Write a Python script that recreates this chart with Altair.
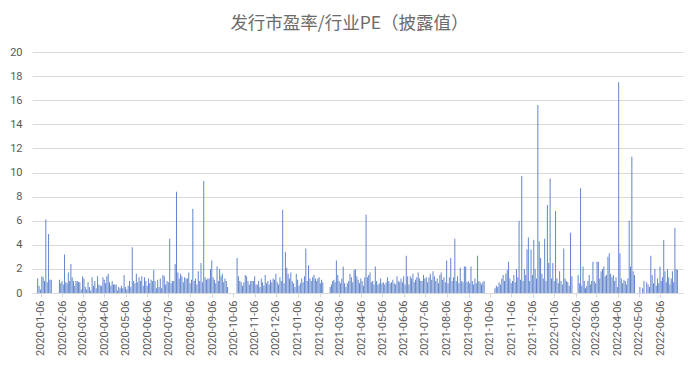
import altair as alt
import pandas as pd

TITLE = "发行市盈率/行业PE（披露值）"

# Monthly series of values (evenly spread over each month)
m2020_01 = [1.2, 0.6, 0.3, 1.4, 1.3, 1.0, 6.1, 0.9, 4.9, 1.1, 1.1, 0, 0, 0, 0, 0]
m2020_02 = [1.1, 0.8, 1.0, 0.7, 3.2, 0.9, 0.8, 1.7, 1.0, 2.4, 1.3, 1.0, 0.6, 1.0, 1.0, 0.9]
m2020_03 = [0.9, 0.3, 1.4, 1.2, 0.5, 0.3, 0.9, 0.5, 0.2, 1.3, 0.6, 1.0, 0.4, 1.4, 0.7, 0.6]
m2020_04 = [0.6, 1.3, 1.1, 0.8, 1.4, 1.6, 0.9, 0.6, 1.0, 0.7, 0.7, 0.7, 0.2, 0.5, 0.4, 0.6]
m2020_05 = [0.4, 1.5, 0.5, 0.3, 0.6, 1.0, 0.5, 3.8, 1.0, 0.8, 1.6, 0.9, 1.3, 1.0, 1.4, 0.6]
m2020_06 = [1.3, 1.0, 0.6, 1.2, 0.8, 1.1, 1.0, 1.9, 1.0, 0.4, 1.1, 0.5, 1.2, 0.4, 1.5, 1.4]
m2020_07 = [0.7, 1.0, 0.9, 4.5, 0.8, 1.0, 1.0, 2.4, 8.4, 1.7, 1.2, 1.6, 1.4, 0.9, 1.3, 1.2]
m2020_08 = [1.2, 1.7, 0.8, 1.1, 7.0, 1.0, 1.2, 0.7, 1.8, 1.0, 2.5, 0.9, 9.3, 1.3, 1.1, 1.2]
m2020_09 = [1.2, 2.0, 2.7, 1.3, 1.1, 0.8, 2.2, 1.0, 2.0, 1.4, 1.6, 0.9, 1.2, 1.0, 0.5, 0]
m2020_10 = [0, 0, 0, 0, 0, 2.9, 1.4, 1.0, 0.9, 0.6, 0.9, 1.5, 1.4, 1.0, 0.7, 1.0]
m2020_11 = [1.0, 1.0, 1.4, 0.7, 0.7, 1.0, 0.5, 1.2, 0.9, 0.6, 1.5, 0.8, 1.0, 0.7, 1.1, 0.9]
m2020_12 = [1.2, 1.1, 1.6, 0.9, 0.7, 1.3, 1.0, 6.9, 0.8, 3.4, 2.1, 1.6, 1.2, 1.7, 1.0, 0.8]
m2021_01 = [0.5, 1.6, 1.1, 0.6, 0.8, 1.2, 0.9, 1.4, 3.7, 1.0, 2.3, 1.2, 1.0, 1.3, 1.5, 1.2]
m2021_02 = [1.0, 1.2, 1.3, 0.8, 1.1, 0.9, 0, 0, 0, 0, 0, 0.5, 0.7, 1.0, 1.1, 0.9]
m2021_03 = [2.7, 1.5, 1.0, 0.8, 1.2, 2.2, 0.8, 0.5, 0.8, 1.0, 1.6, 1.3, 0.9, 1.9, 2.0, 1.4]
m2021_04 = [1.1, 0.8, 1.2, 1.0, 0.6, 1.3, 6.5, 1.3, 1.5, 1.7, 0.9, 1.0, 0.7, 2.2, 1.0, 0.7]
m2021_05 = [0.8, 1.2, 0.8, 0.9, 0.7, 0.9, 1.3, 1.0, 0.8, 0.9, 1.1, 0.8, 0.7, 1.4, 1.0, 0.9]
m2021_06 = [1.2, 0.9, 1.4, 0.7, 3.1, 1.4, 0.7, 1.4, 1.2, 1.6, 0.9, 1.1, 1.3, 1.7, 1.2, 1.0]
m2021_07 = [1.0, 1.5, 1.2, 1.3, 0.9, 1.3, 1.6, 1.1, 1.8, 1.4, 1.0, 1.2, 0.8, 1.5, 1.7, 1.1]
m2021_08 = [1.3, 0.9, 2.7, 0.8, 1.3, 2.9, 1.0, 1.3, 4.5, 1.0, 1.4, 0.8, 2.1, 1.0, 0.9, 2.2]
m2021_09 = [2.2, 0.9, 1.0, 0.8, 2.2, 1.0, 0.7, 1.2, 0.8, 3.1, 1.0, 0.9, 0.7, 0.9, 1.0, 0]
m2021_10 = [0, 0, 0, 0, 0, 0, 0.4, 0.6, 0.5, 0.9, 0.7, 1.2, 1.5, 1.0, 1.6, 1.9]
m2021_11 = [2.6, 1.2, 0.8, 1.0, 1.5, 0.9, 2.0, 1.3, 6.0, 1.1, 9.7, 1.0, 2.0, 1.5, 3.6, 4.6]
m2021_12 = [1.0, 3.6, 1.5, 4.4, 2.0, 1.2, 15.6, 4.3, 2.9, 1.6, 1.2, 4.5, 1.0, 7.3, 2.5, 9.5]
m2022_01 = [1.2, 2.5, 1.0, 6.8, 1.2, 0.8, 1.8, 1.0, 0.7, 3.7, 1.2, 1.0, 0.9, 0.6, 5.0, 1.4]
m2022_02 = [0, 0, 0, 0, 1.5, 0.8, 8.7, 0.6, 2.2, 1.0, 0.4, 0.6, 1.0, 1.5, 0.7, 1.0]
m2022_03 = [2.6, 1.0, 0.8, 2.6, 2.6, 1.2, 1.8, 2.0, 2.2, 1.4, 1.5, 3.0, 3.3, 1.6, 1.3, 1.5]
m2022_04 = [1.0, 1.3, 0.5, 17.5, 3.3, 1.2, 0.8, 1.1, 1.0, 0.7, 1.2, 6.0, 2.2, 11.3, 1.8, 1.5]
m2022_05 = [0, 0, 0, 0.5, 0, 0.4, 1.0, 0, 0.9, 0.7, 0.5, 3.1, 1.5, 0.8, 2.0, 0.6]
m2022_06 = [1.2, 0.8, 2.2, 1.0, 1.3, 4.4, 1.8, 0.9, 2.0, 1.3, 0.7, 1.2, 1.8, 0.9, 5.4, 2.0, 1.9]

MONTHS = [
    ("2020-01", m2020_01), ("2020-02", m2020_02), ("2020-03", m2020_03),
    ("2020-04", m2020_04), ("2020-05", m2020_05), ("2020-06", m2020_06),
    ("2020-07", m2020_07), ("2020-08", m2020_08), ("2020-09", m2020_09),
    ("2020-10", m2020_10), ("2020-11", m2020_11), ("2020-12", m2020_12),
    ("2021-01", m2021_01), ("2021-02", m2021_02), ("2021-03", m2021_03),
    ("2021-04", m2021_04), ("2021-05", m2021_05), ("2021-06", m2021_06),
    ("2021-07", m2021_07), ("2021-08", m2021_08), ("2021-09", m2021_09),
    ("2021-10", m2021_10), ("2021-11", m2021_11), ("2021-12", m2021_12),
    ("2022-01", m2022_01), ("2022-02", m2022_02), ("2022-03", m2022_03),
    ("2022-04", m2022_04), ("2022-05", m2022_05), ("2022-06", m2022_06),
]

TICK_LABELS = [
    "2020-01-06", "2020-02-06", "2020-03-06", "2020-04-06", "2020-05-06",
    "2020-06-06", "2020-07-06", "2020-08-06", "2020-09-06", "2020-10-06",
    "2020-11-06", "2020-12-06", "2021-01-06", "2021-02-06", "2021-03-06",
    "2021-04-06", "2021-05-06", "2021-06-06", "2021-07-06", "2021-08-06",
    "2021-09-06", "2021-10-06", "2021-11-06", "2021-12-06", "2022-01-06",
    "2022-02-06", "2022-03-06", "2022-04-06", "2022-05-06", "2022-06-06",
]
Y_TICKS = [0, 2, 4, 6, 8, 10, 12, 14, 16, 18, 20]

rows = []
for ym, vals in MONTHS:
    start = pd.Timestamp(ym + "-01")
    days = start.days_in_month
    n = len(vals)
    for i, v in enumerate(vals):
        if v <= 0:
            continue
        d = start + pd.Timedelta(hours=round((i + 0.5) * days * 24 / n))
        rows.append({"date": d.strftime("%Y-%m-%dT%H:%M:%SZ"), "pe": v})
df = pd.DataFrame(rows)


def dt(s):
    y, m, d = (int(p) for p in s.split("-"))
    return alt.DateTime(year=y, month=m, date=d, utc=True)


tick_values = [dt(s) for s in TICK_LABELS]

chart = (
    alt.Chart(df)
    .mark_bar(size=1, color="#6286cc")
    .encode(
        x=alt.X(
            "date:T",
            scale=alt.Scale(type="utc", domain=[dt("2020-01-01"), dt("2022-07-01")]),
            axis=alt.Axis(
                values=tick_values,
                format="%Y-%m-%d",
                labelAngle=270,
                title=None,
                grid=False,
                domainColor="#d9d9d9",
                tickColor="#d9d9d9",
                tickSize=4,
                labelColor="#595959",
                labelFontSize=11,
                labelFont="Roboto",
                labelPadding=3,
            ),
        ),
        y=alt.Y(
            "pe:Q",
            scale=alt.Scale(domain=[0, 20]),
            axis=alt.Axis(
                values=Y_TICKS,
                title=None,
                domain=False,
                ticks=False,
                gridColor="#d9d9d9",
                labelColor="#595959",
                labelFontSize=11,
                labelFont="Roboto",
                labelPadding=10,
            ),
        ),
    )
    .properties(
        width=651,
        height=241,
        title=alt.TitleParams(
            TITLE,
            fontSize=17.5,
            color="#6b6b6b",
            font="Noto Sans CJK SC",
            fontWeight="normal",
            anchor="middle",
            offset=14,
            dx=-8,
        ),
        padding={"left": 24, "top": 44, "right": 9, "bottom": 63},
        autosize=alt.AutoSizeParams(type="none"),
    )
    .configure_view(stroke=None)
)

chart.save("out.html", embed_options={"renderer": "svg", "actions": False})
